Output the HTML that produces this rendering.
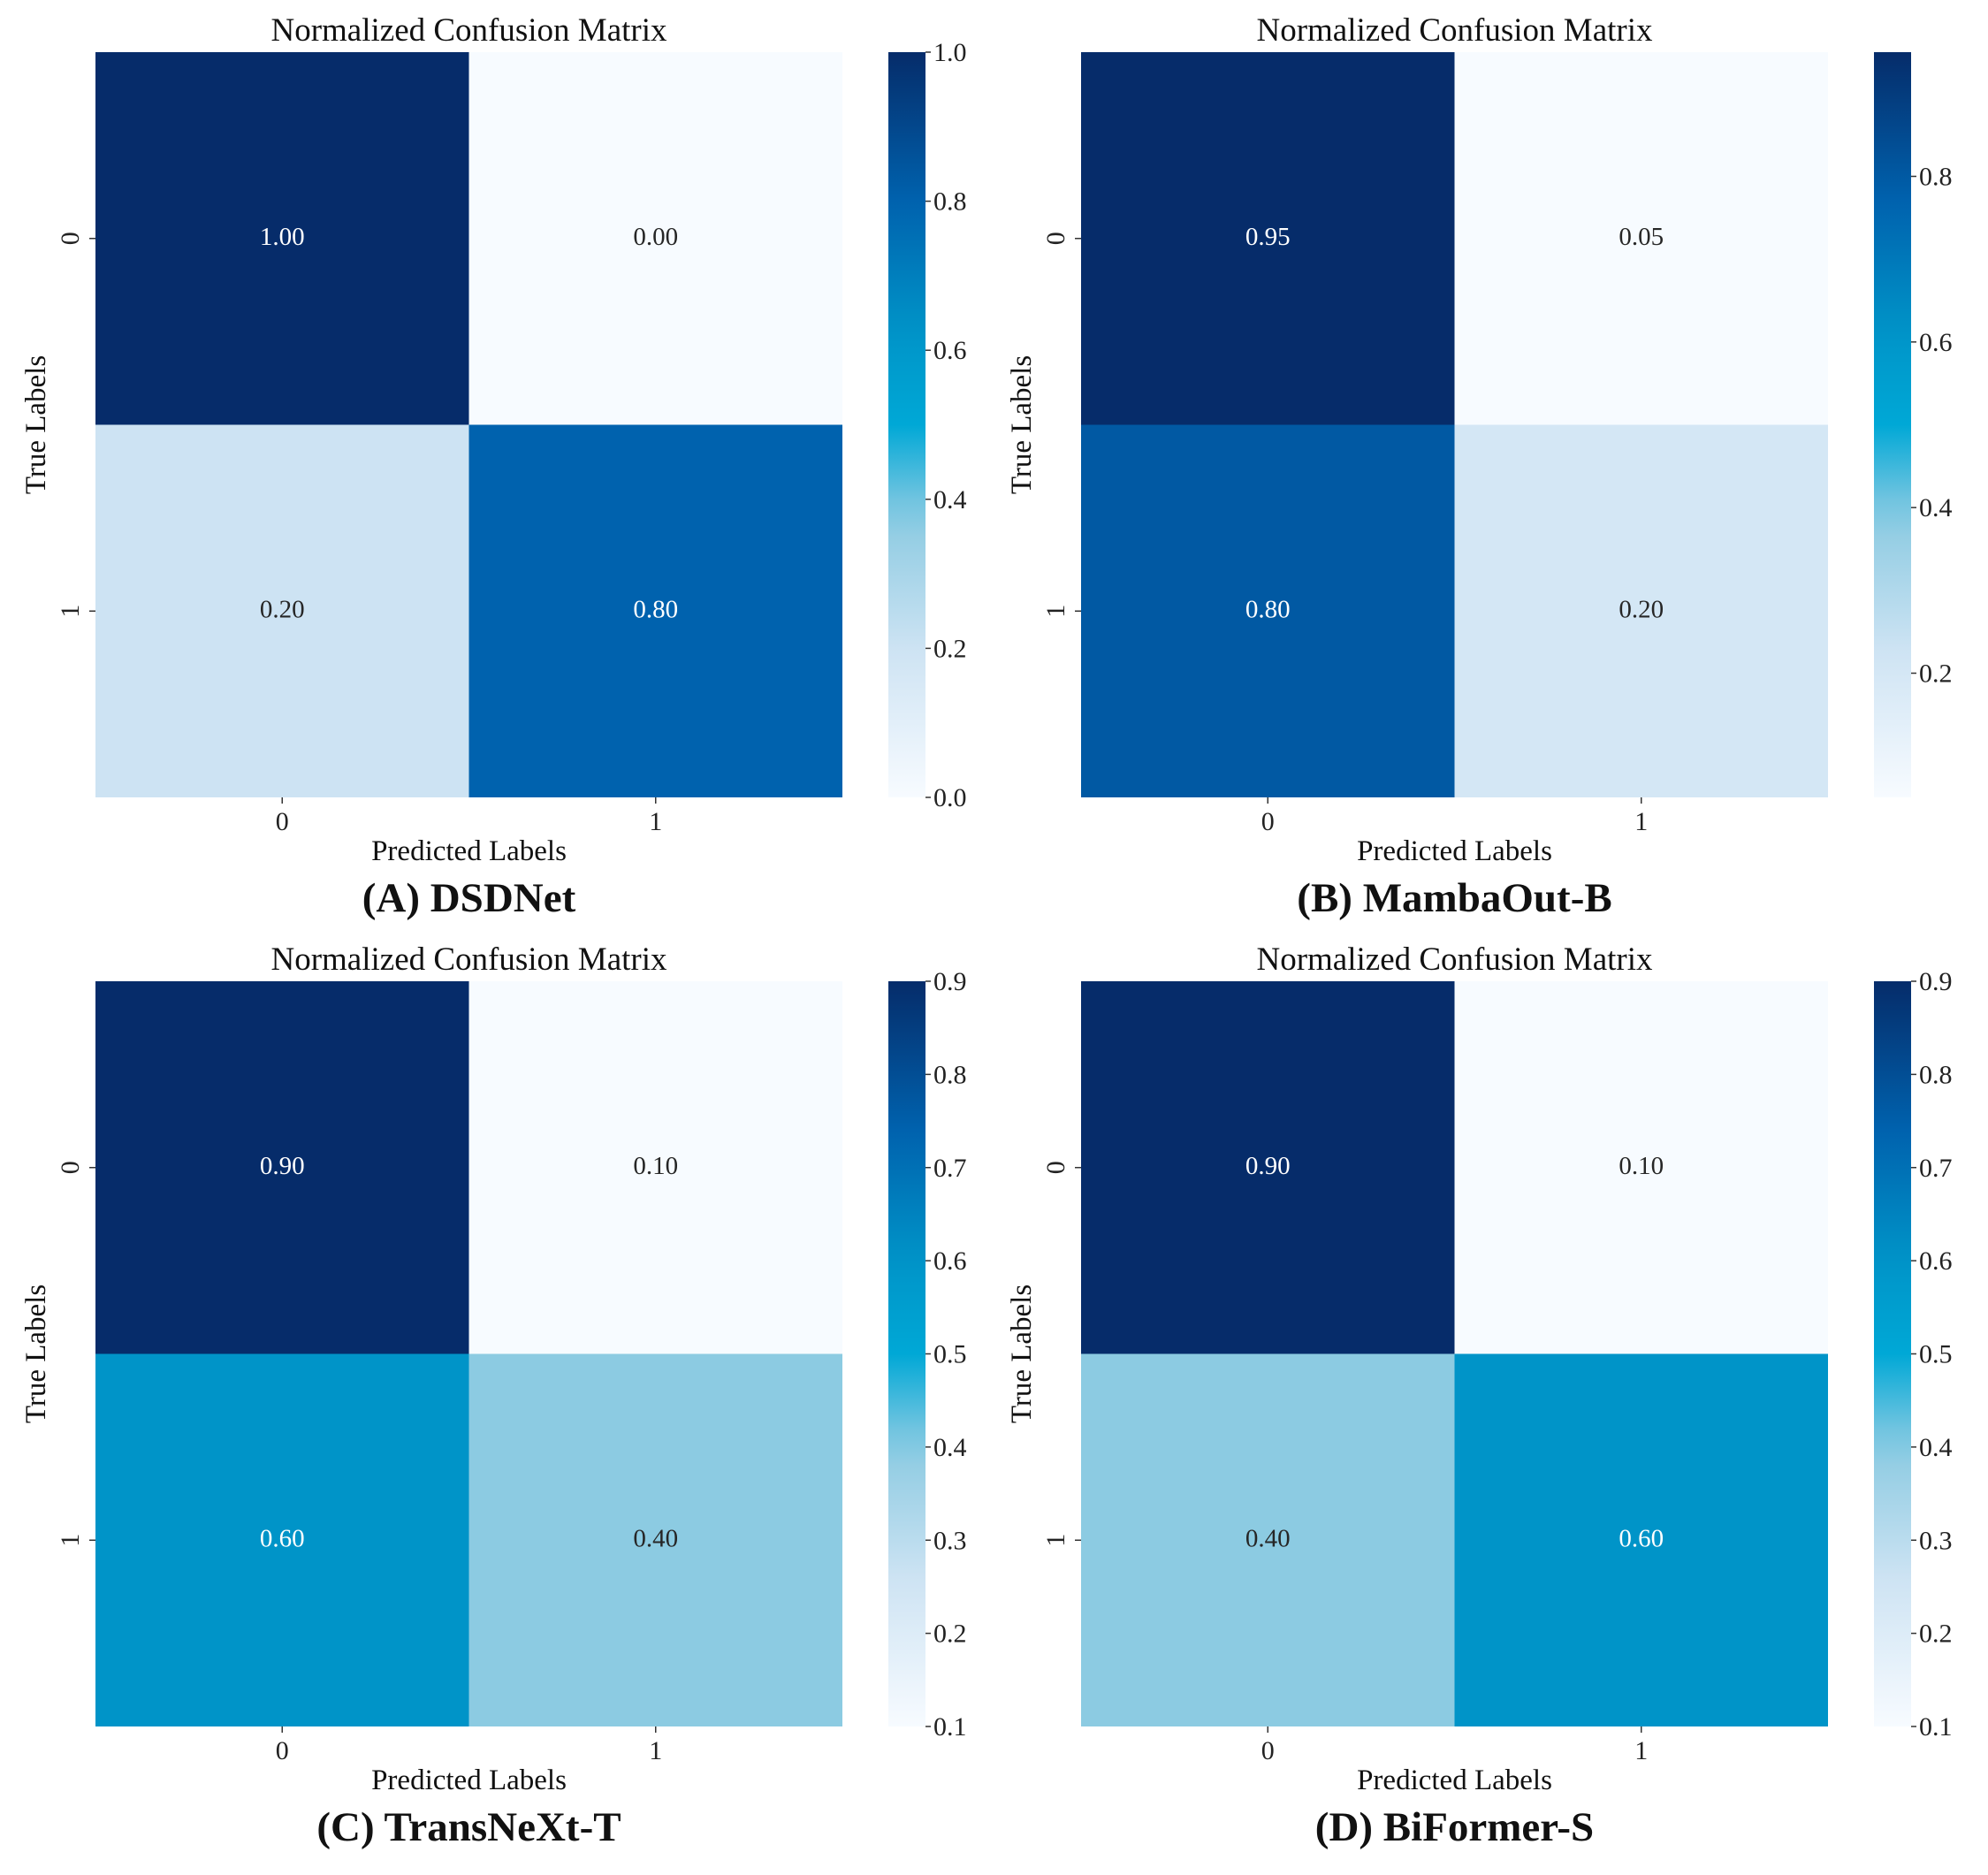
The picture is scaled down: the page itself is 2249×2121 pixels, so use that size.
<!DOCTYPE html>
<html><head><meta charset="utf-8"><style>
html,body{margin:0;padding:0;background:#fff;}
svg{display:block;font-family:"Liberation Serif",serif;}
text{font-family:"Liberation Serif",serif;}
</style></head><body>
<svg id="fig" width="2249" height="2121" viewBox="0 0 2249 2121" font-family="Liberation Serif, serif"></svg>
<script>
const panelLabels = ["(A) DSDNet","(B) MambaOut-B","(C) TransNeXt-T","(D) BiFormer-S"];
const valuesA = [[1.00,0.00],[0.20,0.80]];
const valuesB = [[0.95,0.05],[0.80,0.20]];
const valuesC = [[0.90,0.10],[0.60,0.40]];
const valuesD = [[0.90,0.10],[0.40,0.60]];
const rangeA = [0.0,1.0];
const rangeB = [0.05,0.95];
const rangeC = [0.1,0.9];
const rangeD = [0.1,0.9];
const ticksA = [0.0,0.2,0.4,0.6,0.8,1.0];
const ticksB = [0.2,0.4,0.6,0.8];
const ticksC = [0.1,0.2,0.3,0.4,0.5,0.6,0.7,0.8,0.9];
const ticksD = [0.1,0.2,0.3,0.4,0.5,0.6,0.7,0.8,0.9];
const classLabels = ["0","1"];

const stops=[[0,[247,251,255]],[0.2,[205,227,243]],[0.375,[140,203,226]],[0.5,[0,168,214]],[0.625,[0,148,200]],[0.8,[0,98,174]],[1,[6,44,106]]];
function cmap(t){t=Math.max(0,Math.min(1,t));for(let i=1;i<stops.length;i++){if(t<=stops[i][0]){const a=stops[i-1],b=stops[i];const f=(t-a[0])/(b[0]-a[0]);const c=a[1].map((v,k)=>Math.round(v+(b[1][k]-v)*f));return `rgb(${c[0]},${c[1]},${c[2]})`;}}return 'rgb(6,44,106)';}
const NS="http://www.w3.org/2000/svg";
const svg=document.getElementById('fig');
function mk(tag,attrs,parent,text){const e=document.createElementNS(NS,tag);for(const k in attrs)e.setAttribute(k,attrs[k]);if(text!==undefined)e.textContent=text;(parent||svg).appendChild(e);return e;}
const gradDefs=mk('defs',{});
const panels=[[valuesA,rangeA,ticksA,0,0],[valuesB,rangeB,ticksB,1115,0],[valuesC,rangeC,ticksC,0,1051],[valuesD,rangeD,ticksD,1115,1051]];
panels.forEach((p,pi)=>{
  const [vals,rng,ticks,ox,oy]=p;
  const g=mk('g',{transform:`translate(${ox},${oy})`});
  
  
  const L=108,R=953,T=59,B=902;
  const cw=(R-L)/2,ch=(B-T)/2;
  const xs=i=>L+i*cw, ys=j=>T+j*ch;
  const norm=v=>(v-rng[0])/(rng[1]-rng[0]);
  for(let r=0;r<2;r++)for(let c=0;c<2;c++){
    const v=vals[r][c];
    const rect=mk('rect',{x:xs(c),y:ys(r),width:cw,height:ch,fill:cmap(norm(v))},g);
    
    
    const t=mk('text',{x:xs(c)+cw/2,y:ys(r)+ch/2+7,'text-anchor':'middle','font-size':29,fill:norm(v)>0.5?'#fff':'#262626'},g,v.toFixed(2));
    
    
  }
  const title=mk('text',{x:(L+R)/2,y:46,'text-anchor':'middle','font-size':37,fill:'#111'},g,'Normalized Confusion Matrix');
  
  
  classLabels.forEach((lb,i)=>{
    mk('line',{x1:xs(i)+cw/2,x2:xs(i)+cw/2,y1:B,y2:B+7,stroke:'#333','stroke-width':1.5},g);
    const xt=mk('text',{x:xs(i)+cw/2,y:B+37,'text-anchor':'middle','font-size':30,fill:'#222'},g,lb);
    
    
    const cy=ys(i)+ch/2;
    mk('line',{x1:L-7,x2:L,y1:cy,y2:cy,stroke:'#333','stroke-width':1.5},g);
    const yt=mk('text',{x:0,y:0,transform:`translate(89,${cy}) rotate(-90)`,'text-anchor':'middle','font-size':30,fill:'#222'},g,lb);
    
    
  });
  const xl=mk('text',{x:(L+R)/2,y:973,'text-anchor':'middle','font-size':33,fill:'#111'},g,'Predicted Labels');
  
  
  const yl=mk('text',{x:0,y:0,transform:`translate(51,${(T+B)/2}) rotate(-90)`,'text-anchor':'middle','font-size':33,fill:'#111'},g,'True Labels');
  
  
  const pl=mk('text',{x:(L+R)/2,y:1031,'text-anchor':'middle','font-size':47,'font-weight':'bold',fill:'#111'},g,panelLabels[pi]);
  
  
  const gid='grad'+pi;
  const lg=mk('linearGradient',{id:gid,x1:0,y1:1,x2:0,y2:0},gradDefs);
  for(let k=0;k<=20;k++){mk('stop',{offset:k/20,'stop-color':cmap(k/20)},lg);}
  const CL=1005,CR=1047;
  const cb=mk('rect',{x:CL,y:T,width:CR-CL,height:B-T,fill:`url(#${gid})`},g);
  
  
  const cy=v=>B-(v-rng[0])/(rng[1]-rng[0])*(B-T);
  ticks.forEach(v=>{
    const y=cy(v);
    mk('line',{x1:CR,x2:CR+6,y1:y,y2:y,stroke:'#333','stroke-width':1.5},g);
    const tl=mk('text',{x:CR+9,y:y+10,'font-size':30,fill:'#222'},g,v.toFixed(1));
    
    
  });
});
</script>
</body></html>
